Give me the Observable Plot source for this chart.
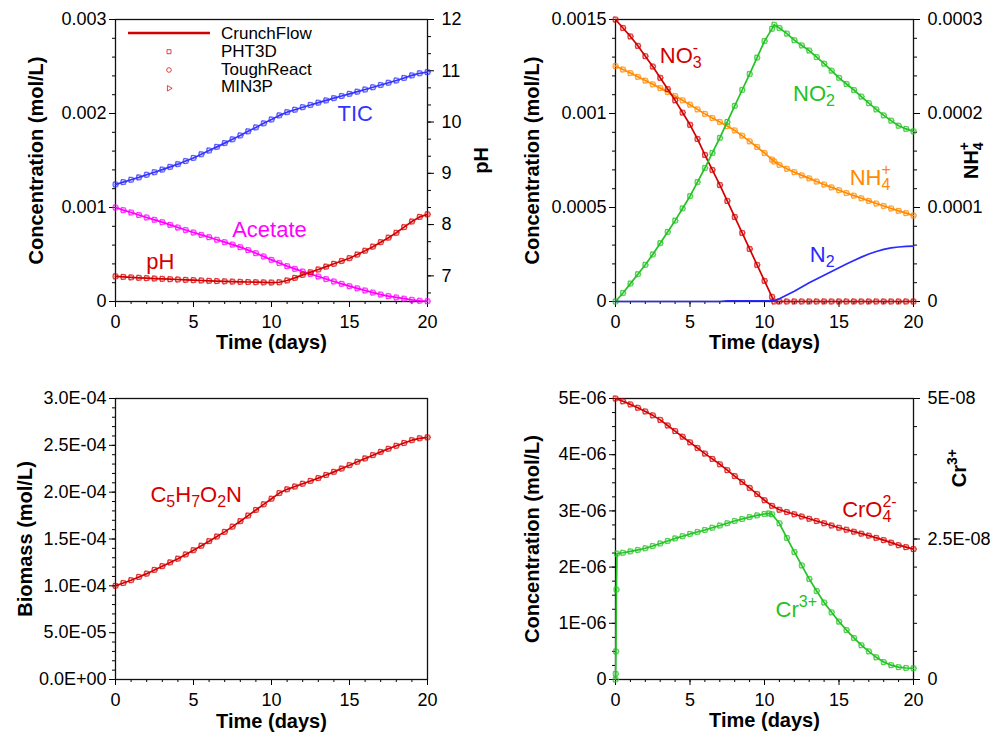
<!DOCTYPE html>
<html><head><meta charset="utf-8">
<script src="https://cdn.jsdelivr.net/npm/d3@7"></script>
<script src="https://cdn.jsdelivr.net/npm/@observablehq/plot@0.6"></script>
<style>
html,body{margin:0;padding:0;background:#fff;}
#wrap{position:relative;width:1001px;height:734px;overflow:hidden;background:#fff;}
</style></head><body><div id="wrap"></div>
<script>
// ---------- colours ----------
const red = "#d40000", blue = "#3333ff", magenta = "#ff00ff", green = "#22c322", orange = "#ff8a00", n2blue = "#2a2aff";

// ---------- shared x axis ----------
const xMajor = [0, 5, 10, 15, 20];
const xMajorLabels = ["0", "5", "10", "15", "20"];
const xMinor = [0,1,2,3,4,5,6,7,8,9,10,11,12,13,14,15,16,17,18,19,20];

// ---------- time grids (days) ----------
const days = [0,0.5,1,1.5,2,2.5,3,3.5,4,4.5,5,5.5,6,6.5,7,7.5,8,8.5,9,9.5,10,10.5,11,11.5,12,12.5,13,13.5,14,14.5,15,15.5,16,16.5,17,17.5,18,18.5,19,19.5,20];
const daysN = [0,0.5,1,1.5,2,2.5,3,3.5,4,4.5,5,5.5,6,6.5,7,7.5,8,8.5,9,9.5,10,10.5,10.65,11,11.5,12,12.5,13,13.5,14,14.5,15,15.5,16,16.5,17,17.5,18,18.5,19,19.5,20];
const daysCr = [0,0.01,0.03,0.06,0.1,0.5,1,1.5,2,2.5,3,3.5,4,4.5,5,5.5,6,6.5,7,7.5,8,8.5,9,9.5,10,10.3,10.5,11,11.5,12,12.5,13,13.5,14,14.5,15,15.5,16,16.5,17,17.5,18,18.5,19,19.5,20];

// ---------- panel 1 (mol/L x 1e-3, pH) ----------
const tic = [1.245,1.27,1.295,1.32,1.348,1.375,1.403,1.432,1.461,1.494,1.527,1.566,1.606,1.645,1.685,1.725,1.766,1.81,1.852,1.895,1.936,1.98,2.014,2.04,2.067,2.091,2.115,2.139,2.163,2.186,2.209,2.232,2.255,2.279,2.303,2.327,2.351,2.378,2.405,2.428,2.44];
const acetate = [1.0,0.972,0.947,0.92,0.894,0.869,0.844,0.815,0.787,0.76,0.734,0.709,0.684,0.657,0.631,0.605,0.578,0.547,0.514,0.479,0.443,0.409,0.376,0.347,0.319,0.292,0.266,0.239,0.213,0.188,0.163,0.14,0.117,0.095,0.074,0.057,0.043,0.03,0.018,0.008,0.003];
const pH = [6.99,6.98,6.97,6.962,6.955,6.948,6.942,6.935,6.929,6.922,6.916,6.91,6.903,6.898,6.893,6.888,6.884,6.88,6.876,6.873,6.87,6.875,6.91,6.96,7.02,7.07,7.124,7.18,7.235,7.29,7.345,7.415,7.49,7.57,7.657,7.745,7.84,7.95,8.06,8.15,8.2];
const p1LeftTicks = [0, 0.001, 0.002, 0.003];
const p1LeftLabels = ["0", "0.001", "0.002", "0.003"];
const pHTicks = [7, 8, 9, 10, 11, 12];
const pHLabels = ["7", "8", "9", "10", "11", "12"];

// ---------- panel 2 (mol/L x 1e-3; NH4+ x 1e-4) ----------
const no3 = [1.5,1.455,1.41,1.36,1.305,1.25,1.19,1.13,1.07,1.005,0.94,0.865,0.78,0.70,0.62,0.535,0.45,0.365,0.28,0.195,0.11,0.025,0,0,0,0,0,0,0,0,0,0,0,0,0,0,0,0,0,0,0,0];
const no2 = [0,0.045,0.095,0.145,0.195,0.25,0.31,0.37,0.43,0.495,0.56,0.635,0.71,0.79,0.87,0.955,1.04,1.125,1.21,1.297,1.385,1.45,1.472,1.455,1.425,1.39,1.362,1.335,1.30,1.265,1.228,1.19,1.157,1.125,1.09,1.055,1.022,0.99,0.962,0.935,0.918,0.905];
const nh4 = [2.504,2.468,2.43,2.39,2.35,2.31,2.27,2.228,2.186,2.14,2.094,2.044,1.996,1.952,1.91,1.866,1.82,1.764,1.704,1.644,1.58,1.51,1.49,1.454,1.412,1.376,1.342,1.31,1.276,1.244,1.214,1.184,1.154,1.126,1.098,1.07,1.042,1.016,0.99,0.964,0.94,0.914];
const n2 = [0,0,0,0,0,0,0,0,0,0,0,0,0,0,0,0.003,0.003,0.003,0.003,0.003,0.003,0.003,0.004,0.015,0.035,0.055,0.077,0.10,0.12,0.14,0.16,0.18,0.199,0.218,0.236,0.253,0.266,0.277,0.285,0.29,0.293,0.295];
const p2LeftTicks = [0, 0.0005, 0.001, 0.0015];
const p2LeftLabels = ["0", "0.0005", "0.001", "0.0015"];
const nh4Ticks = [0, 0.0001, 0.0002, 0.0003];
const nh4Labels = ["0", "0.0001", "0.0002", "0.0003"];

// ---------- panel 3 (mol/L x 1e-4) ----------
const biomass = [1.0,1.03,1.06,1.095,1.13,1.17,1.21,1.25,1.29,1.335,1.38,1.428,1.477,1.526,1.576,1.632,1.69,1.75,1.81,1.87,1.93,1.99,2.03,2.06,2.09,2.12,2.15,2.183,2.217,2.252,2.288,2.324,2.36,2.395,2.43,2.463,2.495,2.525,2.555,2.575,2.585];
const p3LeftTicks = [0, 5e-5, 1e-4, 1.5e-4, 2e-4, 2.5e-4, 3e-4];
const p3LeftLabels = ["0.0E+00", "5.0E-05", "1.0E-04", "1.5E-04", "2.0E-04", "2.5E-04", "3.0E-04"];

// ---------- panel 4 (CrO4 x 1e-6; Cr3+ x 1e-8) ----------
const cro4 = [5.0,4.95,4.895,4.835,4.77,4.70,4.62,4.52,4.42,4.32,4.22,4.12,4.02,3.925,3.83,3.725,3.62,3.515,3.41,3.30,3.19,3.09,3.02,2.98,2.94,2.90,2.86,2.82,2.78,2.74,2.70,2.665,2.63,2.595,2.56,2.52,2.48,2.435,2.39,2.355,2.32];
const cr3 = [0,0.1,0.5,1.6,2.24,2.255,2.28,2.305,2.335,2.375,2.42,2.465,2.51,2.55,2.59,2.625,2.66,2.70,2.74,2.78,2.82,2.855,2.89,2.92,2.945,2.955,2.94,2.78,2.52,2.27,2.03,1.79,1.575,1.37,1.195,1.03,0.88,0.74,0.61,0.50,0.395,0.31,0.255,0.22,0.205,0.2];
const p4LeftTicks = [0, 1e-6, 2e-6, 3e-6, 4e-6, 5e-6];
const p4LeftLabels = ["0", "1E-06", "2E-06", "3E-06", "4E-06", "5E-06"];
const cr3Ticks = [0, 2.5e-8, 5e-8];
const cr3Labels = ["0", "2.5E-08", "5E-08"];

// ---------- legend ----------
const legendNames = ["CrunchFlow", "PHT3D", "ToughReact", "MIN3P"];

// ---------- helpers ----------
const rows = (t, v, f) => t.map((d, i) => ({t: d, v: v[i] * f}));
const fmt = (vals, labs) => { const m = new Map(vals.map((v, i) => [v, labs[i]])); return d => m.has(d) ? m.get(d) : ""; };

function axes({yMajor, yLabels, yMinor, rMajor, rLabels, rMinor}) {
  const m = [
    Plot.axisX({ticks: xMinor, tickSize: 3, tickFormat: () => "", label: null}),
    Plot.axisX({ticks: xMajor, tickSize: 6, tickPadding: 8, tickFormat: fmt(xMajor, xMajorLabels), label: null}),
    Plot.axisY({ticks: yMinor, tickSize: 3, tickFormat: () => "", label: null}),
    Plot.axisY({ticks: yMajor, tickSize: 6, tickPadding: 3, tickFormat: fmt(yMajor, yLabels), label: null})
  ];
  if (rMajor) {
    m.push(Plot.axisY({anchor: "right", ticks: rMinor, tickSize: 3, tickFormat: () => "", label: null}));
    m.push(Plot.axisY({anchor: "right", ticks: rMajor, tickSize: 6, tickPadding: 8, tickFormat: fmt(rMajor, rLabels), label: null}));
  }
  m.push(Plot.frame({stroke: "#111", strokeWidth: 1.3}));
  return m;
}

function series(data, color, markers = true) {
  const o = {x: "t", y: "v", stroke: color, strokeWidth: 0.8, strokeOpacity: 0.6, fill: "none"};
  const ms = [];
  if (markers) {
    ms.push(Plot.dot(data, {...o, symbol: "square", r: 2.7}));
    ms.push(Plot.dot(data, {...o, symbol: "circle", r: 2.7}));
    ms.push(Plot.dot(data, {...o, symbol: "triangle", rotate: 90, r: 2.2}));
  }
  ms.push(Plot.line(data, {x: "t", y: "v", stroke: color, strokeWidth: 1.7}));
  return ms;
}

function labels(ann) {
  return ann.map(a => Plot.text([a], {x: "t", y: "v", text: "key", fill: a.color, textAnchor: "start", lineAnchor: "bottom", fontSize: 22}));
}

const titleOpts = {rotate: -90, lineAnchor: "bottom", textAnchor: "middle", fontWeight: "bold", fontSize: 20};
function titles(leftText, leftDx, bottomDy, right) {
  const m = [
    Plot.text([leftText], {...titleOpts, text: d => d, frameAnchor: "left", dx: leftDx}),
    Plot.text(["Time (days)"], {text: d => d, frameAnchor: "bottom", dy: bottomDy, lineAnchor: "bottom", textAnchor: "middle", fontWeight: "bold", fontSize: 20})
  ];
  if (right) {
    if (right.v !== undefined) {
      m.push(Plot.text([right], {...titleOpts, y: "v", text: "key", frameAnchor: "right", dx: right.dx}));
    } else {
      m.push(Plot.text([right.key], {...titleOpts, text: d => d, frameAnchor: "right", dx: right.dx}));
    }
  }
  return m;
}

const rich = {
  "NO3-": 'NO<tspan dy="5" font-size="16">3</tspan><tspan dx="-8.9" dy="-15" font-size="16">-</tspan>',
  "NO2-": 'NO<tspan dy="5" font-size="16">2</tspan><tspan dx="-8.9" dy="-15" font-size="16">-</tspan>',
  "NH4+": 'NH<tspan dy="5" font-size="16">4</tspan><tspan dx="-8.9" dy="-15" font-size="16">+</tspan>',
  "N2": 'N<tspan dy="5" font-size="16">2</tspan>',
  "C5H7O2N": 'C<tspan dy="5" font-size="16">5</tspan><tspan dy="-5">H</tspan><tspan dy="5" font-size="16">7</tspan><tspan dy="-5">O</tspan><tspan dy="5" font-size="16">2</tspan><tspan dy="-5">N</tspan>',
  "CrO42-": 'CrO<tspan dy="5" font-size="16">4</tspan><tspan dx="-8.9" dy="-15" font-size="16">2-</tspan>',
  "Cr3+": 'Cr<tspan dy="-10" font-size="16">3+</tspan>',
  "NH4+ axis": 'NH<tspan dy="5" font-size="14">4</tspan><tspan dx="-7.8" dy="-14" font-size="14">+</tspan>',
  "Cr3+ axis": 'Cr<tspan dy="-9" font-size="14">3+</tspan>'
};

const wrap = document.getElementById("wrap");
function panel(left, top, margins, ymax, marks) {
  const svg = Plot.plot({
    width: 500, height: 367,
    marginLeft: margins[0], marginRight: margins[1], marginTop: margins[2], marginBottom: margins[3],
    x: {domain: [0, 20]},
    y: {domain: [0, ymax]},
    style: {fontFamily: "'Liberation Sans', Arial, sans-serif", fontSize: "18px", color: "#000", background: "transparent", overflow: "visible"},
    marks
  });
  svg.style.position = "absolute";
  svg.style.left = left + "px";
  svg.style.top = top + "px";
  wrap.appendChild(svg);
  d3.select(svg).selectAll("text").each(function () {
    const k = this.textContent;
    if (rich[k]) this.innerHTML = rich[k];
  });
  return svg;
}

// ---------- panel 1 ----------
const pHToLeft = p => (p - 6.5) / 5.5 * 0.003;
const pHPos = pHTicks.map(pHToLeft);
const pHMinor = d3.range(20, 37).map(k => pHToLeft(k / 3));
const svg1 = panel(0, 0, [115, 73, 19, 66], 0.003, [
  ...axes({yMajor: p1LeftTicks, yLabels: p1LeftLabels, yMinor: d3.range(0, 16).map(k => k * 0.0002),
           rMajor: pHPos, rLabels: pHLabels, rMinor: pHMinor}),
  ...series(rows(days, tic, 1e-3), blue),
  ...series(rows(days, acetate, 1e-3), magenta),
  ...series(days.map((t, i) => ({t, v: pHToLeft(pH[i])})), red),
  ...labels([
    {key: "TIC", t: 14.23, v: 0.00192, color: blue},
    {key: "Acetate", t: 7.48, v: 0.000691, color: magenta},
    {key: "pH", t: 1.97, v: 0.000351, color: red}
  ]),
  ...titles("Concentration (mol/L)", -73, 47, {key: "pH", dx: 60})
]);
// legend
{
  const g = d3.select(svg1).append("g").attr("font-family", "'Liberation Sans', Arial, sans-serif").attr("font-size", 17).attr("text-anchor", "start");
  g.append("line").attr("x1", 128).attr("x2", 210).attr("y1", 33).attr("y2", 33).attr("stroke", red).attr("stroke-width", 2.5);
  const ys = [39.3, 57, 74.7, 92.4];
  legendNames.forEach((n, i) => g.append("text").attr("x", 221).attr("y", ys[i]).attr("text-anchor", "start").text(n));
  const sy = [51.7, 70, 88.3];
  const syms = [d3.symbolSquare, d3.symbolCircle, d3.symbolTriangle];
  const sizes = [16, 17, 13];
  syms.forEach((s, i) => g.append("path").attr("d", d3.symbol(s, sizes[i])())
    .attr("transform", `translate(169,${sy[i]}) rotate(${i === 2 ? 90 : 0})`)
    .attr("fill", "none").attr("stroke", red).attr("stroke-width", 0.9).attr("stroke-opacity", 0.8));
}

// ---------- panel 2 ----------
const nh4Pos = nh4Ticks.map(v => v * 5);
panel(500, 0, [115, 87, 19, 66], 0.0015, [
  ...axes({yMajor: p2LeftTicks, yLabels: p2LeftLabels, yMinor: d3.range(0, 16).map(k => k * 0.0001),
           rMajor: nh4Pos, rLabels: nh4Labels, rMinor: d3.range(0, 16).map(k => k * 0.0001)}),
  ...series(rows(daysN, nh4, 1e-4 * 5), orange),
  ...series(rows(daysN, no3, 1e-3), red),
  ...series(rows(daysN, no2, 1e-3), green),
  ...series(rows(daysN, n2, 1e-3), n2blue, false),
  ...labels([
    {key: "NO3-", t: 2.97, v: 0.00127, color: red},
    {key: "NO2-", t: 11.92, v: 0.001069, color: green},
    {key: "NH4+", t: 15.72, v: 0.00062, color: orange},
    {key: "N2", t: 13.04, v: 0.000209, color: n2blue}
  ]),
  ...titles("Concentration (mol/L)", -77, 47, {key: "NH4+ axis", dx: 64})
]);

// ---------- panel 3 ----------
panel(0, 367, [115, 73, 31, 55], 3e-4, [
  ...axes({yMajor: p3LeftTicks, yLabels: p3LeftLabels, yMinor: d3.range(0, 31).map(k => k * 1e-5)}),
  ...series(rows(days, biomass, 1e-4), red),
  ...labels([{key: "C5H7O2N", t: 2.24, v: 1.893e-4, color: red}]),
  ...titles("Biomass (mol/L)", -84, 48, null)
]);

// ---------- panel 4 ----------
const cr3Pos = cr3Ticks.map(v => v * 100);
panel(500, 367, [115, 87, 31, 55], 5e-6, [
  ...axes({yMajor: p4LeftTicks, yLabels: p4LeftLabels, yMinor: d3.range(0, 21).map(k => k * 2.5e-7),
           rMajor: cr3Pos, rLabels: cr3Labels, rMinor: d3.range(0, 11).map(k => k * 5e-7)}),
  ...series(rows(days, cro4, 1e-6), red),
  ...series(rows(daysCr, cr3, 1e-6), green),
  ...labels([
    {key: "CrO42-", t: 15.21, v: 2.888e-6, color: red},
    {key: "Cr3+", t: 10.74, v: 1.109e-6, color: green}
  ]),
  ...titles("Concentration (mol/L)", -77, 47, {key: "Cr3+ axis", v: 3.76e-6, dx: 52})
]);
</script>
</body></html>
